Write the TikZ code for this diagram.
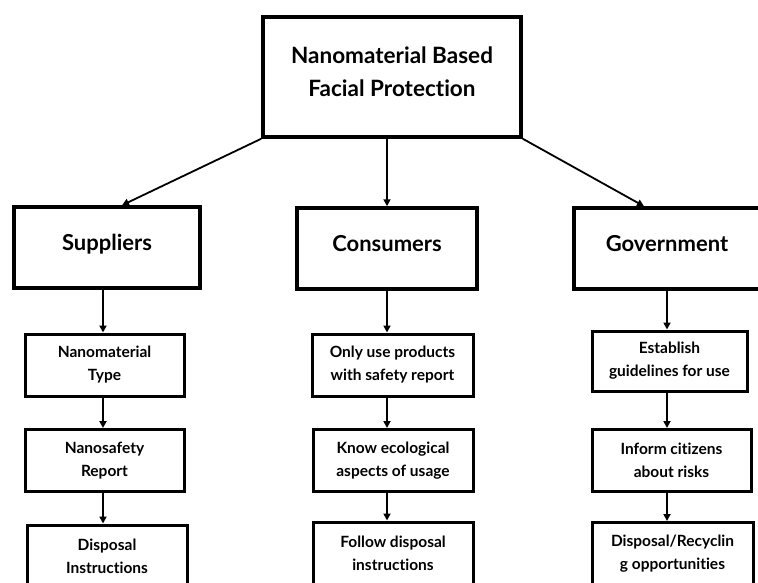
\documentclass[tikz,border=0pt]{standalone}
\usepackage{fontspec}
\setmainfont{Lato}[Ligatures=NoCommon]
\usetikzlibrary{arrows.meta, positioning}

\begin{document}
\begin{tikzpicture}[
    x=1pt, y=-1pt,
    mainbox/.style={draw=black, line width=3.5pt, fill=white, align=center, font=\fontsize{22.5}{33}\selectfont\bfseries, minimum width=258pt, minimum height=120pt},
    groupbox/.style={draw=black, line width=3.5pt, fill=white, align=center, font=\fontsize{22}{26}\selectfont\bfseries, minimum width=186pt, minimum height=81pt},
    itembox/.style={draw=black, line width=3pt, fill=white, align=center, font=\fontsize{15.5}{23}\selectfont\bfseries, minimum width=159pt, minimum height=62pt, inner sep=2pt},
    arrow/.style={-{Triangle[length=7pt, width=7pt]}, line width=1.8pt, draw=black}
]
    \clip (0,0) rectangle (758,583);
    \useasboundingbox (0,0) rectangle (758,583);

    \node[mainbox] (facial) at (392,77) {Nanomaterial Based\\Facial Protection\\[-22pt]\rule{0pt}{8pt}};

    \node[groupbox] (suppliers) at (107,247.5) {Suppliers\\[-16pt]\rule{0pt}{8pt}};
    \node[groupbox, minimum width=180pt] (consumers) at (387,248.5) {Consumers\\[-16pt]\rule{0pt}{8pt}};
    \node[groupbox] (government) at (667,248.5) {Government\\[-16pt]\rule{0pt}{8pt}};

    % suppliers column
    \node[itembox] (type) at (104.5,365) {Nanomaterial\\Type};
    \node[itembox] (report) at (104.5,460.5) {Nanosafety\\Report};
    \node[itembox, minimum width=160pt] (disposal) at (107,556) {Disposal\\Instructions};

    % consumers column
    \node[itembox, minimum width=161pt] (onlyuse) at (392.5,365) {Only use products\\with safety report};
    \node[itembox, minimum width=160pt] (ecology) at (393,460.5) {Know ecological\\aspects of usage};
    \node[itembox, minimum width=160pt] (follow) at (393,553) {Follow disposal\\instructions};

    % government column
    \node[itembox, minimum width=155pt, minimum height=60pt] (guidelines) at (669.5,361) {Establish\\guidelines for use};
    \node[itembox] (inform) at (671.5,460.5) {Inform citizens\\about risks};
    \node[itembox, minimum width=161pt] (recycling) at (672.5,553.5) {Disposal/Recyclin\\g opportunities};

    \draw[arrow] (facial.south west) -- ([xshift=15pt]suppliers.north);
    \draw[arrow] (consumers.north |- facial.south) -- (consumers.north);
    \draw[arrow] (facial.south east) -- ([xshift=-23pt]government.north);

    \draw[arrow] ([xshift=-4pt]suppliers.south) -- ([xshift=-4pt]suppliers.south |- type.north);
    \draw[arrow] ([xshift=-4pt]type.south -| suppliers.south) -- ([xshift=-4pt]report.north -| suppliers.south);
    \draw[arrow] ([xshift=-4pt]report.south -| suppliers.south) -- ([xshift=-4pt]disposal.north -| suppliers.south);

    \draw[arrow] (consumers.south) -- (consumers.south |- onlyuse.north);
    \draw[arrow] (onlyuse.south -| consumers.south) -- (ecology.north -| consumers.south);
    \draw[arrow] (ecology.south -| consumers.south) -- (follow.north -| consumers.south);

    \draw[arrow] (government.south) -- (government.south |- guidelines.north);
    \draw[arrow] (guidelines.south -| government.south) -- (inform.north -| government.south);
    \draw[arrow] (inform.south -| government.south) -- (recycling.north -| government.south);
\end{tikzpicture}
\end{document}
